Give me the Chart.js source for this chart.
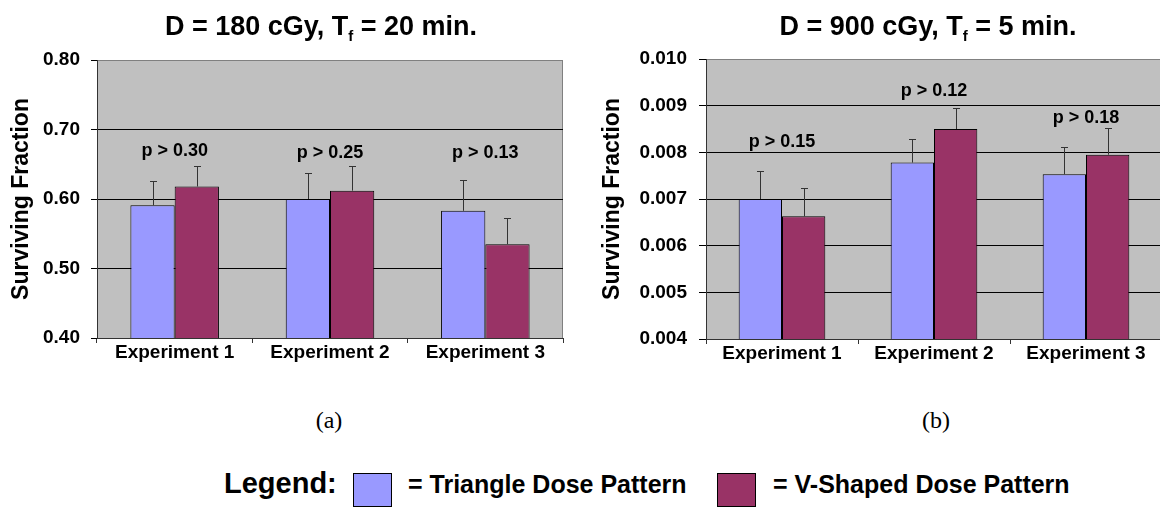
<!DOCTYPE html>
<html>
<head>
<meta charset="utf-8">
<script src="https://cdn.jsdelivr.net/npm/chart.js@4.4.0/dist/chart.umd.min.js"></script>
<style>
  html, body { margin: 0; padding: 0; background: #fff; width: 1160px; height: 510px; overflow: hidden; position: relative;
               font-family: 'Liberation Sans', Arial, Helvetica, sans-serif; color: #000; }
  canvas { position: absolute; top: 0; }
  #chartA { left: 0; }
  #chartB { left: 580px; }
  .title { position: absolute; top: 13px; width: 600px; text-align: center; font-weight: bold; font-size: 27px; line-height: 27px; white-space: nowrap; }
  .title sub { font-size: 15px; line-height: 0; vertical-align: -6px; }
  .panel { position: absolute; top: 408px; width: 100px; text-align: center; font-family: 'Liberation Serif', 'Times New Roman', serif; font-size: 24px; line-height: 24px; }
  .leg { position: absolute; font-weight: bold; white-space: nowrap; }
  .box { position: absolute; top: 473px; width: 37px; height: 32px; border: 1.5px solid #000; }
</style>
</head>
<body>
<canvas id="chartA" width="580" height="370"></canvas>
<canvas id="chartB" width="582" height="370"></canvas>

<div class="title" style="left:21px;">D = 180 cGy, T<sub>f</sub> = 20 min.</div>
<div class="title" style="left:628px;">D = 900 cGy, T<sub>f</sub> = 5 min.</div>

<div class="panel" style="left:279px;">(a)</div>
<div class="panel" style="left:886px;">(b)</div>

<div class="leg" style="left:224px; top:469px; font-size:29px; line-height:29px;">Legend:</div>
<div class="box" id="boxTri" style="left:353px;"></div>
<div class="leg" style="left:408px; top:472px; font-size:25px; line-height:25px;">= Triangle Dose Pattern</div>
<div class="box" id="boxV" style="left:717px;"></div>
<div class="leg" style="left:773px; top:472px; font-size:25px; line-height:25px;">= V-Shaped Dose Pattern</div>

<script>
const categories = ['Experiment 1', 'Experiment 2', 'Experiment 3'];

// (a) D = 180 cGy, Tf = 20 min
const triangleA = [0.591, 0.600, 0.583];
const triangleErrA = [0.035, 0.037, 0.044];
const vShapedA = [0.618, 0.612, 0.535];
const vShapedErrA = [0.029, 0.035, 0.037];
const pLabelsA = ['p > 0.30', 'p > 0.25', 'p > 0.13'];
const pLabelAtA = [0.669, 0.666, 0.666];
const yRangeA = [0.40, 0.80];
const yStepA = 0.10;

// (b) D = 900 cGy, Tf = 5 min
const triangleB = [0.00700, 0.00778, 0.00753];
const triangleErrB = [0.00059, 0.00050, 0.00058];
const vShapedB = [0.00663, 0.00850, 0.00795];
const vShapedErrB = [0.00060, 0.00044, 0.00057];
const pLabelsB = ['p > 0.15', 'p > 0.12', 'p > 0.18'];
const pLabelAtB = [0.00823, 0.00932, 0.00873];
const yRangeB = [0.004, 0.010];
const yStepB = 0.001;

const colTriangle = '#9999ff';
const colVShaped = '#993366';

document.getElementById('boxTri').style.background = colTriangle;
document.getElementById('boxV').style.background = colVShaped;

Chart.defaults.font.family = "'Liberation Sans', Arial, Helvetica, sans-serif";
Chart.defaults.color = '#000';

// grey plot area with a thin grey frame
const plotBackground = {
  id: 'plotBackground',
  beforeDraw(chart) {
    const a = chart.chartArea, c = chart.ctx;
    c.save();
    c.fillStyle = '#c0c0c0';
    c.fillRect(a.left, a.top, a.right - a.left, a.bottom - a.top);
    c.strokeStyle = '#808080';
    c.lineWidth = 1;
    c.beginPath();
    c.moveTo(a.left, Math.round(a.top) + 0.5);
    c.lineTo(a.right, Math.round(a.top) + 0.5);
    c.moveTo(Math.round(a.right) - 0.5, a.top);
    c.lineTo(Math.round(a.right) - 0.5, a.bottom);
    c.stroke();
    c.restore();
  }
};

// upper error whiskers
function errorBars() {
  return {
    id: 'errorBars',
    afterDatasetsDraw(chart) {
      const c = chart.ctx, y = chart.scales.y;
      c.save();
      c.strokeStyle = '#333';
      c.lineWidth = 1;
      chart.data.datasets.forEach((ds, i) => {
        chart.getDatasetMeta(i).data.forEach((bar, j) => {
          const x = Math.round(bar.x) + 0.5;
          const top = Math.round(y.getPixelForValue(ds.data[j] + ds.errors[j])) + 0.5;
          c.beginPath();
          c.moveTo(x, bar.y);
          c.lineTo(x, top);
          c.moveTo(x - 3.5, top);
          c.lineTo(x + 3.5, top);
          c.stroke();
        });
      });
      c.restore();
    }
  };
}

// p-value text above each group
function pLabels(labels, at) {
  return {
    id: 'pLabels',
    afterDatasetsDraw(chart) {
      const c = chart.ctx, x = chart.scales.x, y = chart.scales.y;
      c.save();
      c.fillStyle = '#000';
      c.font = "bold 18px 'Liberation Sans', Arial, sans-serif";
      c.textAlign = 'center';
      c.textBaseline = 'middle';
      labels.forEach((t, i) => c.fillText(t, x.getPixelForValue(i), y.getPixelForValue(at[i])));
      c.restore();
    }
  };
}

function makeChart(id, tri, triErr, vsh, vshErr, labels, at, range, step, dec, box) {
  const [min, max] = range;
  return new Chart(document.getElementById(id), {
    type: 'bar',
    data: {
      labels: categories,
      datasets: [
        { label: 'Triangle Dose Pattern', data: tri, errors: triErr, backgroundColor: colTriangle,
          borderColor: '#000', borderWidth: 1, borderSkipped: false, categoryPercentage: 0.57, barPercentage: 1 },
        { label: 'V-Shaped Dose Pattern', data: vsh, errors: vshErr, backgroundColor: colVShaped,
          borderColor: '#000', borderWidth: 1, borderSkipped: false, categoryPercentage: 0.57, barPercentage: 1 }
      ]
    },
    options: {
      responsive: false,
      animation: false,
      devicePixelRatio: 1,
      layout: { padding: { top: box.top, right: box.right, left: 0, bottom: 0 } },
      plugins: { legend: { display: false }, tooltip: { enabled: false }, title: { display: false } },
      scales: {
        x: {
          grid: { drawOnChartArea: false, offset: true, tickLength: 5, tickColor: '#333' },
          border: { color: '#333' },
          ticks: { color: '#000', font: { size: 19, weight: 'bold', lineHeight: 1 }, padding: 0, maxRotation: 0, autoSkip: false },
          afterFit: s => { s.height = box.xh; }
        },
        y: {
          min: min, max: max,
          ticks: { stepSize: step, callback: v => Number(v).toFixed(dec), color: '#000',
                   font: { size: 19, weight: 'bold' }, padding: box.tickPad },
          grid: {
            color: ctx => (ctx.tick && Math.abs(ctx.tick.value - min) > 1e-9 && Math.abs(ctx.tick.value - max) > 1e-9) ? '#000' : 'rgba(0,0,0,0)',
            tickColor: '#000', tickLength: box.tickLen
          },
          border: { color: '#333' },
          title: { display: true, text: 'Surviving Fraction', color: '#000',
                   font: { size: 23, weight: 'bold', lineHeight: 1.2 }, padding: { top: box.titlePad, bottom: 0 } },
          afterFit: s => { s.width = box.yw; }
        }
      }
    },
    plugins: [plotBackground, errorBars(), pLabels(labels, at)]
  });
}

makeChart('chartA', triangleA, triangleErrA, vShapedA, vShapedErrA, pLabelsA, pLabelAtA, yRangeA, yStepA, 2,
  { top: 60, right: 17, xh: 32, yw: 97, tickLen: 6, tickPad: 11, titlePad: 8 });
makeChart('chartB', triangleB, triangleErrB, vShapedB, vShapedErrB, pLabelsB, pLabelAtB, yRangeB, yStepB, 3,
  { top: 59, right: 0, xh: 31, yw: 126, tickLen: 7, tickPad: 12, titlePad: 19 });
</script>
</body>
</html>
